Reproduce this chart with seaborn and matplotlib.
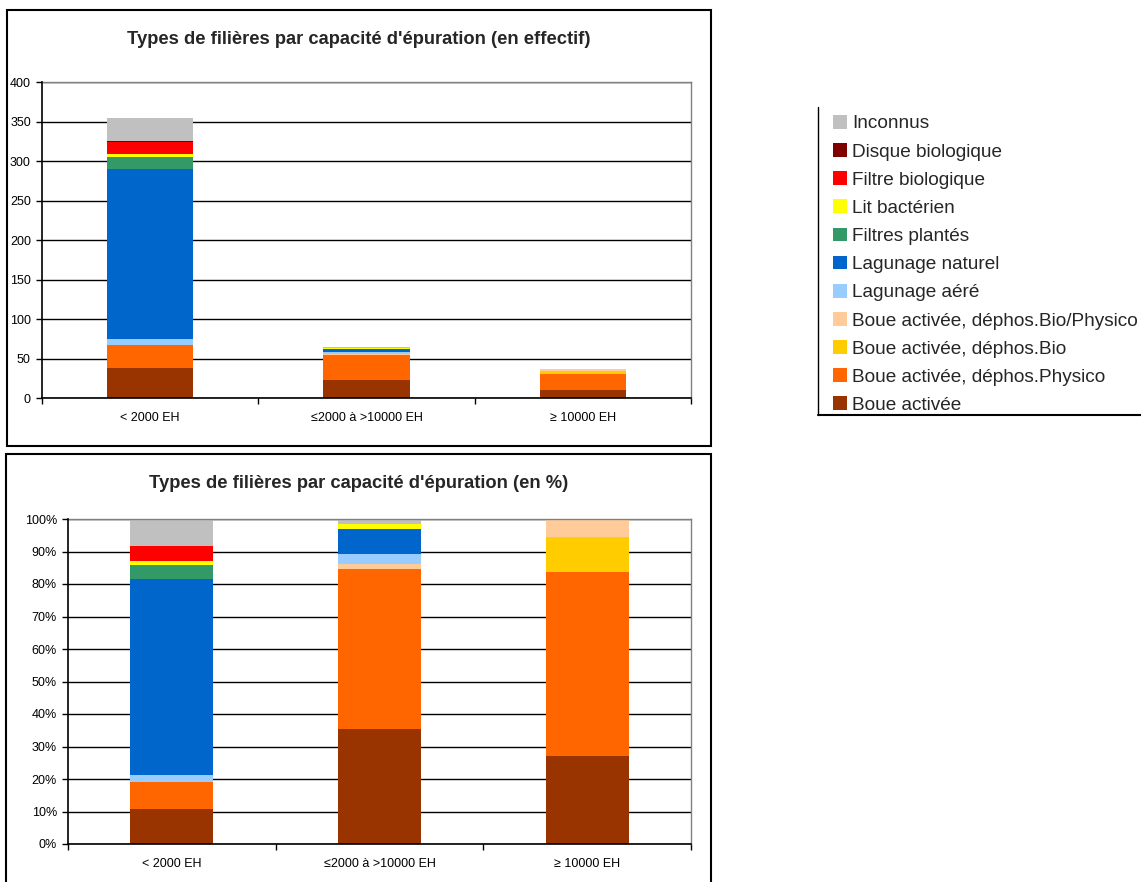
import numpy as np
import matplotlib
matplotlib.use("Agg")
import matplotlib.pyplot as plt
from matplotlib.patches import Patch, Rectangle
from matplotlib.lines import Line2D
from matplotlib.ticker import FixedLocator, FuncFormatter
import seaborn as sns

# Capacity classes
categories = ["< 2000 EH", "≤2000 à >10000 EH", "≥ 10000 EH"]

# Number of plants per treatment type (stacked bottom to top)
boue_activee = [38, 23, 10]
dephos_physico = [30, 32, 21]
dephos_bio = [0, 0, 4]
dephos_bio_physico = [0, 1, 2]
lagunage_aere = [7, 2, 0]
lagunage_naturel = [215, 5, 0]
filtres_plantes = [15, 0, 0]
lit_bacterien = [4, 1, 0]
filtre_biologique = [16, 0, 0]
disque_biologique = [1, 0, 0]
inconnus = [29, 1, 0]

series_names = [
    "Boue activée",
    "Boue activée, déphos.Physico",
    "Boue activée, déphos.Bio",
    "Boue activée, déphos.Bio/Physico",
    "Lagunage aéré",
    "Lagunage naturel",
    "Filtres plantés",
    "Lit bactérien",
    "Filtre biologique",
    "Disque biologique",
    "Inconnus",
]
series_values = [
    boue_activee, dephos_physico, dephos_bio, dephos_bio_physico,
    lagunage_aere, lagunage_naturel, filtres_plantes, lit_bacterien,
    filtre_biologique, disque_biologique, inconnus,
]
series_colors = [
    "#993300", "#FF6600", "#FFCC00", "#FFCC99", "#99CCFF", "#0066CC",
    "#339966", "#FFFF00", "#FF0000", "#800000", "#C0C0C0",
]

sns.set_theme(style="white")
plt.rcParams["font.family"] = ["Liberation Sans", "DejaVu Sans"]

W, H = 1141, 882
fig = plt.figure(figsize=(W / 100, H / 100), dpi=100)


def fx(px):
    return px / W


def fy(py):
    return 1 - py / H


counts = np.array(series_values, dtype=float)
cum_counts = np.cumsum(counts, axis=0)
totals = cum_counts[-1]
cum_pct = cum_counts / totals * 100


def stacked(ax, cum):
    # draw cumulative heights from the top series down so each layer shows
    for i in range(len(series_names) - 1, -1, -1):
        sns.barplot(x=categories, y=cum[i], color=series_colors[i],
                    saturation=1, width=0.4, errorbar=None,
                    linewidth=0, ax=ax)


def style_axes(ax, ymax, step, fmt):
    ax.set_xlim(-0.5, 2.5)
    ax.set_ylim(0, ymax)
    ax.set_axisbelow(True)
    ax.yaxis.set_major_locator(FixedLocator(np.arange(0, ymax + step / 2, step)))
    ax.yaxis.set_major_formatter(FuncFormatter(fmt))
    ax.yaxis.grid(True, color="black", linewidth=1)
    ax.xaxis.grid(False)
    ax.set_xticks([0, 1, 2])
    ax.set_xticklabels(categories)
    ax.set_xticks([-0.5, 0.5, 1.5, 2.5], minor=True)
    ax.tick_params(axis="x", which="major", length=0, pad=10,
                   labelsize=9, colors="black")
    ax.tick_params(axis="x", which="minor", length=4, width=1,
                   direction="out", color="black", bottom=True)
    ax.tick_params(axis="y", length=4, width=1, direction="out", pad=4,
                   labelsize=9, colors="black", left=True)
    ax.set_xlabel("")
    ax.set_ylabel("")
    for s in ("top", "right"):
        ax.spines[s].set_color("#808080")
        ax.spines[s].set_linewidth(1)
    for s in ("left", "bottom"):
        ax.spines[s].set_color("black")
        ax.spines[s].set_linewidth(1.2)
        ax.spines[s].set_zorder(3)


# Chart frames
fig.add_artist(Rectangle((fx(7), fy(446)), fx(704), 436 / H,
                         transform=fig.transFigure, fill=False,
                         ec="black", lw=1.5))
fig.add_artist(Rectangle((fx(6), fy(900)), fx(705), 446 / H,
                         transform=fig.transFigure, fill=False,
                         ec="black", lw=1.5))

# Counts
ax1 = fig.add_axes([fx(42), fy(398.3), fx(691 - 42), (398.3 - 82.3) / H])
stacked(ax1, cum_counts)
style_axes(ax1, 400, 50, lambda v, p: f"{v:.0f}")
fig.text(fx(359), fy(40), "Types de filières par capacité d'épuration (en effectif)",
         ha="center", va="center", fontsize=13.2, fontweight="bold")

# Percentages
ax2 = fig.add_axes([fx(68), fy(844), fx(691 - 68), (844 - 519) / H])
stacked(ax2, cum_pct)
style_axes(ax2, 100, 10, lambda v, p: f"{v:.0f}%")
fig.text(fx(359), fy(483), "Types de filières par capacité d'épuration (en %)",
         ha="center", va="center", fontsize=13.2, fontweight="bold")

# Legend, top entry first
handles = [Patch(facecolor=c, edgecolor="none") for c in series_colors[::-1]]
fig.legend(handles, series_names[::-1], loc="upper left",
           bbox_to_anchor=(fx(833), fy(115)), frameon=False,
           fontsize=13.7, handlelength=0.73, handleheight=0.73,
           handletextpad=0.26, labelspacing=0.56, borderpad=0,
           borderaxespad=0)
fig.add_artist(Line2D([fx(818), fx(818)], [fy(107), fy(415)],
                      transform=fig.transFigure, color="black", lw=1))
fig.add_artist(Line2D([fx(818), fx(1141)], [fy(415), fy(415)],
                      transform=fig.transFigure, color="black", lw=1.5))

fig.savefig("out.png", dpi=100)
